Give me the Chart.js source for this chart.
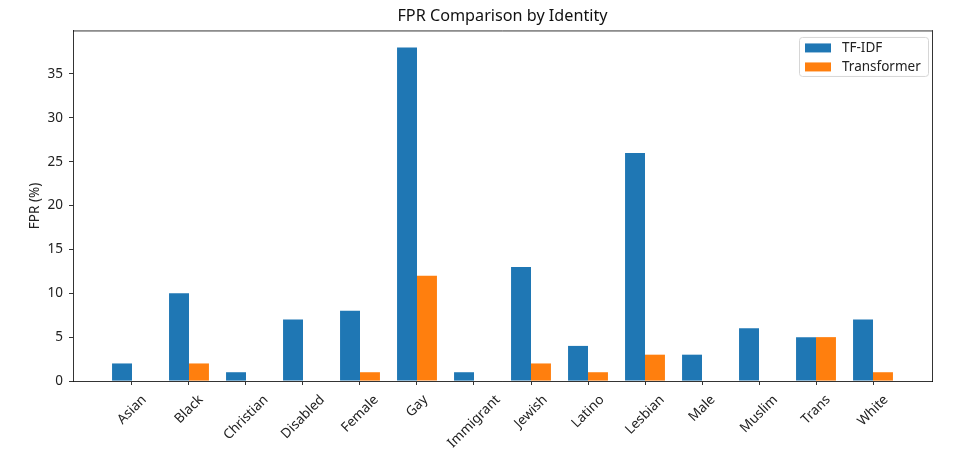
<!DOCTYPE html>
<html><head><meta charset="utf-8">
<script src="https://cdn.jsdelivr.net/npm/chart.js@4.4.1/dist/chart.umd.min.js"></script>
<style>html,body{margin:0;padding:0;background:#fff;}#wrap{width:979px;height:453px;}</style>
</head><body><div id="wrap"><canvas id="c" width="979" height="453"></canvas></div>
<script>
const categories = ['Asian','Black','Christian','Disabled','Female','Gay','Immigrant','Jewish','Latino','Lesbian','Male','Muslim','Trans','White'];
const tfidfValues = [2,10,1,7,8,38,1,13,4,26,3,6,5,7];
const transformerValues = [0,2,0,0,1,12,0,2,1,3,0,0,5,1];
const yTickValues = [0,5,10,15,20,25,30,35];
const seriesLabels = ['TF-IDF','Transformer'];
const seriesColors = ['#1f77b4','#ff7f0e'];
const titleText = 'FPR Comparison by Identity';
const yTitle = 'FPR (%)';

const FONT = 'Noto Sans';
const tickFont = {family: FONT, size: 13.5};

const spinePlugin = {
  id: 'spines',
  afterDraw(chart) {
    const {ctx, chartArea: a} = chart;
    ctx.save();
    ctx.strokeStyle = '#000';
    ctx.lineWidth = 0.8;
    ctx.beginPath();
    ctx.moveTo(a.left, a.top); ctx.lineTo(a.right, a.top);
    ctx.stroke();
    ctx.restore();
  }
};

// x tick labels rotated 45 deg with centred alignment (matplotlib style)
const xLabelPlugin = {
  id: 'xLabels',
  afterDraw(chart) {
    const {ctx} = chart;
    const xs = chart.scales.x;
    const axisY = chart.chartArea.bottom;
    ctx.save();
    ctx.font = tickFont.size + 'px "' + FONT + '"';
    ctx.fillStyle = '#222';
    ctx.textAlign = 'center';
    ctx.textBaseline = 'middle';
    xs.ticks.forEach((t) => {
      const label = categories[t.value];
      const w = ctx.measureText(label).width;
      const cx = xs.getPixelForValue(t.value);
      const cy = axisY + 13 + (w + 10) * 0.3536;
      ctx.save();
      ctx.translate(cx, cy);
      ctx.rotate(-Math.PI / 4);
      ctx.fillText(label, 0, 0);
      ctx.restore();
    });
    ctx.restore();
  }
};

const legendPlugin = {
  id: 'mplLegend',
  afterDraw(chart) {
    const {ctx, chartArea: a} = chart;
    const x0 = a.right - 133, y0 = a.top + 6, w = 129, h = 39;
    ctx.save();
    ctx.fillStyle = 'rgba(255,255,255,0.8)';
    ctx.strokeStyle = '#d6d6d6';
    ctx.lineWidth = 1;
    ctx.beginPath();
    ctx.roundRect(x0 + 0.5, y0 + 0.5, w, h, 3);
    ctx.fill(); ctx.stroke();
    ctx.font = '13.5px "' + FONT + '"';
    ctx.textBaseline = 'middle';
    chart.data.datasets.forEach((ds, i) => {
      const cy = y0 + 11 + i * 19;
      ctx.fillStyle = ds.backgroundColor;
      ctx.fillRect(x0 + 6, cy - 4.5, 26, 9);
      ctx.fillStyle = '#222';
      ctx.fillText(ds.label, x0 + 43, cy);
    });
    ctx.restore();
  }
};

new Chart(document.getElementById('c'), {
  type: 'bar',
  data: {
    datasets: [
      {label: seriesLabels[0], data: categories.map((c, i) => ({x: i, y: tfidfValues[i]})), backgroundColor: seriesColors[0], borderWidth: 0, categoryPercentage: 0.7, barPercentage: 1.0},
      {label: seriesLabels[1], data: categories.map((c, i) => ({x: i, y: transformerValues[i]})), backgroundColor: seriesColors[1], borderWidth: 0, categoryPercentage: 0.7, barPercentage: 1.0}
    ]
  },
  options: {
    responsive: false,
    animation: false,
    devicePixelRatio: 1,
    layout: {padding: {left: 26, right: 0, top: 0, bottom: 0}},
    plugins: {
      legend: {display: false},
      tooltip: {enabled: false},
      title: {display: true, text: titleText, color: '#111', font: {family: FONT, size: 16.2, weight: 'normal'}, padding: {top: 7, bottom: 4.5}}
    },
    scales: {
      x: {
        type: 'linear', min: -1.035, max: 14.035, offset: false,
        grid: {offset: false, drawOnChartArea: false, drawTicks: true, tickLength: 4, color: '#000', lineWidth: 0.8},
        border: {display: true, color: '#000', width: 0.8},
        ticks: {display: false, autoSkip: false, callback: (v) => categories[v]},
        afterBuildTicks: (s) => { s.ticks = categories.map((c, i) => ({value: i})); },
        afterFit: (s) => { s.height = 72; }
      },
      y: {
        min: 0, max: 39.9,
        grid: {drawOnChartArea: false, drawTicks: true, tickLength: 4, color: '#000', lineWidth: 0.8},
        border: {display: true, color: '#000', width: 0.8},
        ticks: {color: '#222', font: tickFont, padding: 6},
        title: {display: true, text: yTitle, color: '#222', font: tickFont, padding: {top: 1, bottom: 0}},
        afterBuildTicks: (s) => { s.ticks = yTickValues.map(v => ({value: v})); },
        afterFit: (s) => { s.width = 47; }
      },
      y2: {
        position: 'right', min: 0, max: 39.9,
        grid: {display: false},
        border: {display: true, color: '#000', width: 0.8},
        ticks: {display: false},
        afterFit: (s) => { s.width = 47; }
      }
    }
  },
  plugins: [spinePlugin, xLabelPlugin, legendPlugin]
});
</script></body></html>
